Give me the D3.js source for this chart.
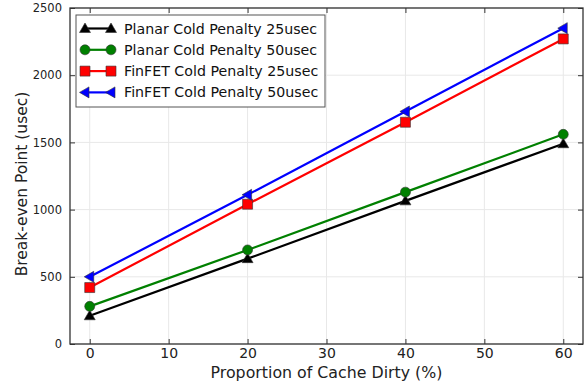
<!DOCTYPE html>
<html>
<head>
<meta charset="utf-8">
<script src="https://cdn.jsdelivr.net/npm/d3@7"></script>
<style>
  body { margin: 0; background: #fff; }
  text { font-family: "DejaVu Sans", sans-serif; }
</style>
</head>
<body>
<svg id="chart"></svg>
<script>
// * chart data
const xValues = [0, 20, 40, 60];
const planar25 = [210, 635, 1065, 1490];
const planar50 = [280, 700, 1130, 1560];
const finfet25 = [420, 1040, 1650, 2270];
const finfet50 = [500, 1110, 1730, 2350];
const seriesNames = ['Planar Cold Penalty 25usec', 'Planar Cold Penalty 50usec',
  'FinFET Cold Penalty 25usec', 'FinFET Cold Penalty 50usec'];
const xTicks = [0, 10, 20, 30, 40, 50, 60];
const yTicks = [0, 500, 1000, 1500, 2000, 2500];

const series = [
  { name: seriesNames[0], values: planar25, color: '#000000', marker: 'triUp' },
  { name: seriesNames[1], values: planar50, color: '#008000', marker: 'circle' },
  { name: seriesNames[2], values: finfet25, color: '#ff0000', marker: 'square' },
  { name: seriesNames[3], values: finfet50, color: '#0000ff', marker: 'triLeft' }
];

const width = 587, height = 383;
const margin = { top: 8, right: 4, bottom: 39, left: 70 };
const innerW = width - margin.left - margin.right;
const innerH = height - margin.top - margin.bottom;

const svg = d3.select('#chart').attr('width', width).attr('height', height);
const g = svg.append('g').attr('transform', `translate(${margin.left},${margin.top})`);

const x = d3.scaleLinear().domain([-2.5, 62.5]).range([0, innerW]);
const y = d3.scaleLinear().domain([0, 2500]).range([innerH, 0]);

// grid
g.append('g').selectAll('line').data(xTicks).enter().append('line')
  .attr('x1', d => x(d)).attr('x2', d => x(d)).attr('y1', 0).attr('y2', innerH)
  .attr('stroke', '#e8e8e8').attr('stroke-width', 1);
g.append('g').selectAll('line').data(yTicks).enter().append('line')
  .attr('y1', d => y(d)).attr('y2', d => y(d)).attr('x1', 0).attr('x2', innerW)
  .attr('stroke', '#e8e8e8').attr('stroke-width', 1);

// axes (inward ticks, mirrored)
const axisColor = '#333';
const styleAxis = (size) => (sel) => {
  sel.select('.domain').remove();
  sel.selectAll('.tick line').attr('stroke', axisColor).attr('stroke-width', 1);
  sel.selectAll('.tick text').attr('fill', '#222').style('font-size', size)
    .style('font-family', '"DejaVu Sans", sans-serif');
};
g.append('g').attr('transform', `translate(0,${innerH})`)
  .call(d3.axisBottom(x).tickValues(xTicks).tickSizeInner(-5).tickSizeOuter(0).tickPadding(4))
  .call(styleAxis('14px'));
g.append('g')
  .call(d3.axisTop(x).tickValues(xTicks).tickSizeInner(-5).tickSizeOuter(0).tickFormat(''))
  .call(styleAxis('14px'));
g.append('g')
  .call(d3.axisLeft(y).tickValues(yTicks).tickSizeInner(-5).tickSizeOuter(0).tickPadding(8)
    .tickFormat(d3.format('d')))
  .call(styleAxis('11.5px'));
g.append('g').attr('transform', `translate(${innerW},0)`)
  .call(d3.axisRight(y).tickValues(yTicks).tickSizeInner(-5).tickSizeOuter(0).tickFormat(''))
  .call(styleAxis('11px'));

g.append('rect').attr('width', innerW).attr('height', innerH)
  .attr('fill', 'none').attr('stroke', axisColor).attr('stroke-width', 1.3);

// markers
const markerPath = (type) => {
  if (type === 'triUp') return 'M0,-5.5L5.5,4L-5.5,4Z';
  if (type === 'triLeft') return 'M-5.5,0L4,-5.5L4,5.5Z';
  if (type === 'square') return 'M-5,-5H5V5H-5Z';
  return null;
};
const drawMarker = (sel, s) => {
  if (s.marker === 'circle') {
    sel.append('circle').attr('r', 5).attr('fill', s.color).attr('stroke', '#333').attr('stroke-width', 0.6);
  } else {
    sel.append('path').attr('d', markerPath(s.marker)).attr('fill', s.color)
      .attr('stroke', '#333').attr('stroke-width', 0.6);
  }
};

const line = d3.line().x((d, i) => x(xValues[i])).y(d => y(d));
series.forEach((s) => {
  g.append('path').datum(s.values).attr('d', line)
    .attr('fill', 'none').attr('stroke', s.color).attr('stroke-width', 2.2);
  s.values.forEach((v, i) => {
    const m = g.append('g').attr('transform', `translate(${x(xValues[i])},${y(v)})`);
    drawMarker(m, s);
  });
});

// legend
const legend = g.append('g').attr('transform', 'translate(6,7)');
legend.append('rect').attr('width', 249).attr('height', 92)
  .attr('fill', '#fff').attr('stroke', '#555').attr('stroke-width', 1);
series.forEach((s, i) => {
  const row = legend.append('g').attr('transform', `translate(0,${13.5 + i * 21.3})`);
  row.append('line').attr('x1', 9).attr('x2', 35).attr('y1', 0).attr('y2', 0)
    .attr('stroke', s.color).attr('stroke-width', 2.2);
  [9, 35].forEach((px) => {
    const m = row.append('g').attr('transform', `translate(${px},0)`);
    drawMarker(m, s);
  });
  row.append('text').attr('x', 48).attr('y', 5).text(s.name)
    .style('font-size', '14.2px').attr('fill', '#111');
});

// axis labels
svg.append('text').attr('x', margin.left + x(30)).attr('y', 378)
  .attr('text-anchor', 'middle').style('font-size', '15.8px').attr('fill', '#222')
  .text('Proportion of Cache Dirty (%)');
svg.append('text').attr('transform', `translate(27,${margin.top + innerH / 2 + 8}) rotate(-90)`)
  .attr('text-anchor', 'middle').style('font-size', '15.5px').attr('fill', '#222')
  .text('Break-even Point (usec)');
</script>
</body>
</html>
